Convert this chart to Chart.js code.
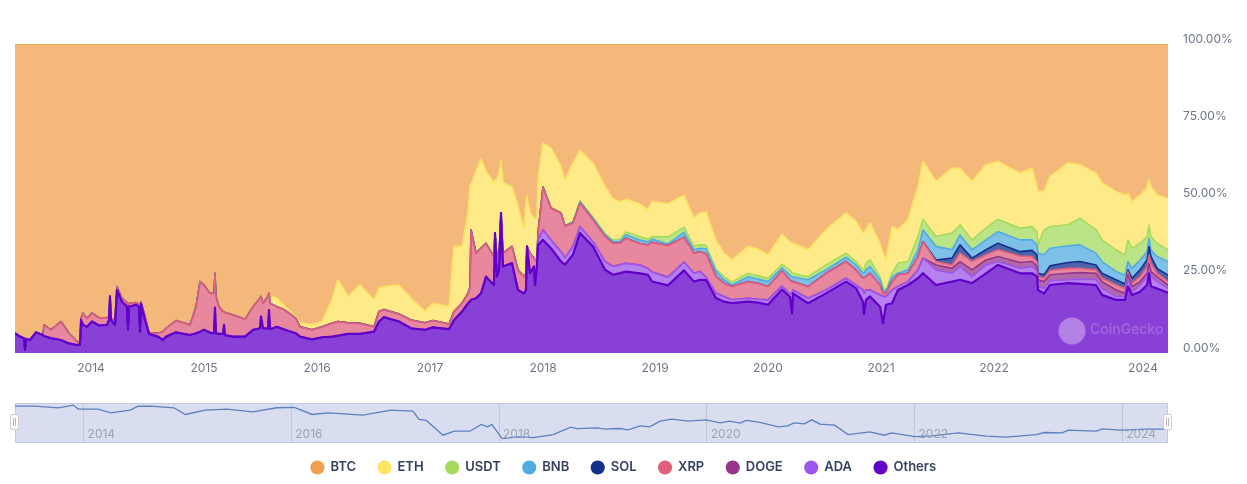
<!DOCTYPE html>
<html><head><meta charset="utf-8">
<script src="https://cdn.jsdelivr.net/npm/chart.js@4"></script>
<style>
html,body{margin:0;padding:0;background:#fff;width:1247px;height:484px;overflow:hidden}
canvas{position:absolute;left:0;display:block}
#main{top:0}#nav{top:395px}
</style></head><body>
<canvas id="main" width="1247" height="484"></canvas>
<canvas id="nav" width="1247" height="55"></canvas>
<script>
// Ordinal sample number of every reading (the axis spaces samples, not calendar time)
const sampleNo=[0,4,9,10,11,15,21,28,
29,36,46,54,62,65,66,68,72,77,84,92,94,95,96,100,102,107,112,113,114,121,124,125,126,130,134,143,148,151,161,175,181,185,189,195,199,200,201,204,208,209,210,218,230,238,245,246,248,253,254,255,
258,262,270,281,285,297,307,317,323,333,345,359,364,369,384,396,410,418,434,439,447,453,455,456,461,466,471,479,480,482,484,486,488,497,503,509,511,512,515,519,520,522,
523,528,536,546,
550,558,565,578,590,598,605,611,625,633,637,653,669,679,685,691,701,709,717,733,743,753,767,775,777,778,793,811,831,841,848,849,851,855,865,868,871,877,883,893,903,908,
921,937,945,957,971,983,1005,1017,1022,1023,1029,1035,1053,1065,1081,1087,1101,1110,1113,1117,1125,1132,1134,1136,1142,1153];

const others=[6.4,5.5,4.8,1,4.6,4.2,6.7,5.8,
5.5,4.8,4.2,3.1,2.6,2.6,10.7,9.1,8.5,10.2,8.9,9.1,10.7,18.3,10.7,9.1,20.4,16.6,15,7.5,15,15.6,15,6.9,15.9,10.7,6.2,5.3,4.2,5.3,6.7,5.8,6.4,6.9,7.5,6.6,6.4,14.7,6.4,6.2,6.2,9.1,5.8,5.3,5.3,7.5,8,11.8,8,8,13.9,7.8,
8,8.5,7.5,6.4,5.3,4.4,5.1,5.3,5.6,6.2,6.2,6.9,10.2,11.6,10.2,8,7.5,8.3,7.7,10.7,13.4,16.1,16.7,17.2,17.7,19.3,24.7,22,38.8,24.7,26.9,45.3,28,29.1,20.4,19.3,20.4,34.5,25.8,28,22,28.5,
35,36.6,33.9,29.6,
28.5,31.8,38.8,34.5,26.9,25.3,25.8,26.3,25.8,25.3,22.8,22,26.9,23.1,23.7,23.7,17.7,16.6,16.1,16.6,16.3,15.6,20.4,18.3,12.9,19.3,16.1,19.3,23.1,21,16.6,12.6,17.2,18.3,15,9.6,15.6,16.1,20.4,22,24.2,25.8,
22,23.1,23.7,22.6,25.8,28.5,25.8,25.8,24.7,20.4,19.3,22,22.6,22.4,22,18.8,17.2,17.2,21.5,18.8,19.8,22,25.8,21.5,20.9,19.5];

const ada=[1.6,3.3,2.7,3.2,
2.2,2.7,2.1,1.5,2.7,2.7,2.7,2.7,2.7,2.1,3,2.7,2.7,2.7,2.7,1,1.6,1.7,1.1,1.1,1.1,1.6,1.1,1,6.4,1.1,1.6,1.1,1.1,1,3.8,6.7,3.2,2.1,3.8,8.7,2.7,4.3,1.1,1.1,2.7,4.9,
4.9,2.7,4.3,2.1,2.7,1.1,1.6,2.2,1.7,1.1,1.6,1.4,1.1,1.5,1.7,2.1,1.1,1.1,2.7,1,2.2,2.7,1.1,3.2,2.2,1.4];

const doge=[1.6,1.6,1.6,2.2,1.6,1.6,1.9,1.6,1.6,2.2,2.2,1.9,2.1,2.1,2.1,2.2,2.1,1,1,1.7,1.1,1.1,2.1,1.6,1.6,1.1];

const xrp=[3.6,2.7,6,3.3,1.1,.5,.5,3.8,2.7,2.7,2.5,2.3,1.1,.2,.5,1.6,1.1,1.1,1.3,1,1.1,.7,.9,.6,.7,1.1,.4,1.1,2.7,2.7,3.8,3.3,8.6,16.2,14.5,12.7,12.9,11.1,11.9,8.8,7.2,4.3,7.3,7,5.6,7.5,9.7,6.5,8.1,10.3,5.4,8.3,
7.6,6.5,6.4,4.8,3.2,3.1,3.4,4.3,4.6,3.6,3.4,1.6,3.2,2.5,2.4,2.7,2.3,2.2,1.7,2.7,2.7,3.2,4.6,22.7,14.6,14.6,10.8,9.2,0,6,4.3,0,4.3,5.4,6.5,5.4,5.4,0,6.5,2.7,8.1,1.6,
2.2,13.8,10.3,12.5,
10.2,7.5,7.6,7.1,8.1,7.5,7,8.1,7,7.6,9.5,10.3,8.1,6.5,6.4,7.6,5.4,4.3,4.3,5.4,5.2,4.3,4.9,4.4,3.8,2.7,3.8,5.4,5.4,4.9,3.8,4.9,4.3,5.4,3.2,1,1,2.7,3.8,2.7,4.3,5.4,
1.1,1.1,2.7,2.7,1.7,2.2,2.1,1.6,1.6,1,1.1,1.4,1.6,1.4,1.1,1.1,1.6,1.6,1.1,1,1.6,2.1,2.7,2.7,1.1,1.1];

const sol=[.5,2.2,2.7,1.1,1.6,2.1,1.4,2,2.2,1.1,1.1,1.5,1.9,2.2,1.6,1.6,1.7,1.4,.6,1.7,2.2,2.2,2.7,2.2,1.6,2.1];

const bnb=[.2,.3,.3,.4,.5,.5,.6,1.1,1.1,1,1,.5,1.6,1.1,1.1,1.6,1.7,1.1,.5,1.6,1.3,1.6,1,1.6,1.6,1.6,2.2,1.1,1.4,1.6,1.6,1.6,2.2,2.2,1.7,1.1,.6,1.6,.5,1.1,2.2,3.8,
4.4,2.7,3.2,2.7,3.2,3.8,3.8,3.4,3.2,6.5,6.5,5.7,5.4,5.4,3.8,3.8,2.7,2.9,2.7,3.2,3.2,2.7,2.7,2.1,3.8,4.4];

const usdt=[.3,.4,.5,.5,.6,.7,.9,1.1,.9,.8,2.3,1.7,1.1,1.1,1.1,.6,1,1,1.1,1.1,1.1,1.1,1.7,1.1,1.1,1,1.6,1.3,1.1,1.1,1.1,2.2,2.1,1,1.1,.5,1.1,3.3,2.7,4.3,3.4,
3.2,5.4,3.3,3.2,3.8,4,3.8,4.3,4.3,2.7,8.1,7,6.8,8.6,7.6,7,7,6.5,7,6.5,5.4,4.8,4.3,4.3,4.3,3.7];

const eth=[2.7,2.7,1.1,.5,1.3,1.6,1.7,7.6,13.5,8.5,12.4,8.7,7.6,7.4,9.4,7,3.6,5.6,5.6,21.1,18.4,26,32.6,14.5,26.5,28.8,23.3,23.8,17.2,25.3,27,17.2,22.7,19.4,20.5,15.2,22.7,16.2,13,12.9,13.5,13,
17.2,14.2,19.4,15.1,
14.6,18.8,16.3,17.5,15.1,13.3,12,10.6,10.5,9.5,11.3,10.8,10.3,9.1,10.3,10.8,9.2,7.6,7,8.7,8.6,7.6,9.7,9.1,9.7,9.7,8.7,11.4,13,12.9,11.9,11.9,10.8,11.9,10.8,10.8,9.7,15.1,10.8,13.5,16.2,18.7,
17.8,21,18.3,18.9,20.5,18.7,17.8,18.9,14.6,17.3,12.4,16.2,20,17.3,18.3,18.4,18.9,19.4,15.1,15.1,15.6,15.7,14.6,16.2,15.6,16.7];

const btc=[93.6,94.5,95.2,99,95.4,95.8,93.3,94.2,
90.9,92.5,89.8,93.6,96.3,96.9,88.8,87.1,88.8,87.1,88.6,88.6,88.2,81.5,88.8,89.3,78.5,82.3,83.7,91.5,83.9,83.7,84.1,92.5,83.4,88.2,93.4,93.6,93.1,92,89.5,90.9,85,76.9,78,80.7,80.7,74.2,81.7,85,86.6,86.6,86.9,87.7,89.1,85,82.3,81.7,83.9,81.7,80.7,83.9,
81.7,82.3,85,88.3,90.2,90.9,89.8,82.8,76.3,81.7,78,82.8,79,78.5,78,82.3,86.6,83.9,85,65.5,65.5,54.7,46.1,45.6,41.2,37.3,41.2,45,44,44,41.8,37.5,45,46.1,52.6,60.1,51.5,49.3,54.7,56.4,56.4,56.9,
44,32.1,33.7,39.6,
44,38.5,34.4,38.5,46.1,50,51,50.1,52,53.7,50.1,52,49.3,56.4,54.7,54.7,63.4,67.7,69.9,65.5,66.4,68.2,61.2,64.5,64.5,64.5,66.6,60.1,54.7,57.5,61.2,61.2,60.1,58,64.5,67.7,69.9,59.1,60.1,56.9,46.1,38,
44.5,40.2,40.2,44.5,39.1,38,41.8,40.2,46.1,47.7,47.7,42.9,38.5,39.1,41.8,45,47.7,48.9,48.3,51,48.9,46.7,44,46.2,48.9,50];

// X-axis tick labels and the sample they sit on
const yearLabels=['2014','2015','2016','2017','2018','2019','2020','2021','2022','2024'];
const yearSamples=[76,189,302,415,528,640,753,866,979,1128];
const shareTicks=[0,25,50,75,100];

// Navigator: BTC share over calendar time
const navYears=[2013.34,2013.53,2013.76,2013.90,2013.95,2014.14,2014.26,2014.45,2014.52,2014.64,2014.87,2014.98,2015.17,2015.38,2015.63,2015.86,2016.03,2016.20,2016.35,2016.69,2016.96,2017.17,2017.23,2017.30,2017.46,2017.57,2017.72,2017.83,2017.89,2017.93,2018.03,2018.18,2018.33,2018.52,2018.69,2018.75,2018.94,2019.02,2019.16,2019.24,2019.36,2019.45,2019.55,2019.66,2019.82,2019.99,2020.13,2020.22,2020.32,2020.38,2020.51,2020.69,2020.78,2020.84,2020.94,2021.01,2021.09,2021.23,2021.36,2021.57,2021.71,2021.78,2022.0,2022.17,2022.42,2022.69,2022.88,2023.17,2023.25,2023.42,2023.48,2023.75,2023.81,2023.98,2024.25,2024.44];
const navBtc=[95.1,95.1,91.9,97,89.4,89.4,82.4,87.5,94.4,95.1,91.9,79.2,87.5,89.4,84.3,92,92.5,79.2,82.4,78,87.5,85.6,69.7,67.8,39.8,47.4,47.4,60.2,55.7,60.2,33.5,36.7,35.4,41.1,55,52.5,53.8,51.3,52.5,50,57.6,55.7,66.5,70.3,66.5,69,63.3,66.5,62.7,67.8,64,55.7,57.6,63.3,61.4,69,60.8,58.9,41.1,46.2,39.8,44.3,37.3,38.6,44.3,37.9,36,41.1,44.9,44.3,49.4,47.4,51.9,49.4,51.3,51.3];
const navTickYears=[2014,2016,2018,2020,2022,2024];

const names=['Others','ADA','DOGE','XRP','SOL','BNB','USDT','ETH','BTC'];
const colors=['#6100C9','#9E55EA','#96358A','#E0607E','#13308D','#52ABE0','#A4DB5E','#FFE363','#EFA04E'];
const series=[others,ada,doge,xrp,sol,bnb,usdt,eth,btc];

const n=sampleNo.length;
const full=a=>[...Array(n-a.length).fill(0),...a];
const cols=series.map(full);
// Percent stacking: readings are normalised to 100 per sample
const totals=sampleNo.map((_,i)=>cols.reduce((s,c)=>s+c[i],0));
const hexA=(h,a)=>{const v=parseInt(h.slice(1),16);return `rgba(${v>>16},${(v>>8)&255},${v&255},${a})`;};

const datasets=names.map((name,k)=>({
  label:name,
  data:sampleNo.map((x,i)=>({x,y:cols[k][i]/totals[i]*100})),
  borderColor:colors[k],
  backgroundColor:hexA(colors[k],.75),
  borderWidth:k===0?2.2:1.6,
  fill:k===0?'origin':'-1',
  pointRadius:0,tension:0,borderJoinStyle:'round'
}));

const watermark={id:'watermark',afterDatasetsDraw(c){
  const g=c.ctx;g.save();
  g.fillStyle='rgba(255,255,255,.34)';
  g.beginPath();g.arc(1072,331,13.5,0,Math.PI*2);g.fill();
  g.fillStyle='rgba(255,255,255,.2)';
  g.font='500 14px Inter';g.textBaseline='middle';g.textAlign='left';
  g.fillText('CoinGecko',1090,330);
  g.restore();
}};

new Chart(document.getElementById('main'),{
  type:'line',
  data:{datasets},
  plugins:[watermark],
  options:{
    responsive:false,animation:false,
    layout:{padding:{left:15,top:44,right:15,bottom:0}},
    plugins:{
      tooltip:{enabled:false},
      legend:{position:'bottom',reverse:true,
        labels:{usePointStyle:true,pointStyle:'circle',boxWidth:14,boxHeight:10,padding:22,
          color:'#364060',font:{family:'Inter',size:13,weight:'600'},
          generateLabels(ch){return Chart.defaults.plugins.legend.labels.generateLabels(ch).map(l=>({...l,fillStyle:colors[l.datasetIndex],strokeStyle:colors[l.datasetIndex],lineWidth:0}));}
        }}
    },
    scales:{
      x:{type:'linear',min:0,max:sampleNo[n-1],
        grid:{display:false},border:{display:false},
        afterBuildTicks(a){a.ticks=yearSamples.map(v=>({value:v}));},
        afterFit(a){a.height=86;},
        ticks:{autoSkip:false,maxRotation:0,padding:0,color:'#6F7787',font:{family:'Inter',size:12},
          callback(v){return yearLabels[yearSamples.indexOf(v)];}}
      },
      y:{position:'right',stacked:true,min:0,max:100,
        grid:{display:false},border:{display:false},
        afterBuildTicks(a){a.ticks=shareTicks.map(v=>({value:v}));},
        afterFit(a){a.width=64;},
        ticks:{padding:7,labelOffset:-5,color:'#6F7787',font:{family:'Inter',size:12},
          callback(v){return v.toFixed(2)+'%';}}
      }
    }
  }
});

const navFrame={id:'navFrame',
  beforeDraw(c){const a=c.chartArea,g=c.ctx;g.save();g.fillStyle='#D8DEEF';g.fillRect(a.left,a.top,a.width,a.height);g.strokeStyle='#C6CCDD';g.strokeRect(a.left+.5,a.top+.5,a.width-1,a.height-1);g.restore();},
  afterDraw(c){const a=c.chartArea,g=c.ctx,x=c.scales.x;g.save();
    g.fillStyle='#9EA3B5';g.font='12px Inter';g.textAlign='left';g.textBaseline='middle';
    navTickYears.forEach(v=>g.fillText(String(v),x.getPixelForValue(v)+4,39.5));
    [a.left,a.right].forEach(px=>{
      g.fillStyle='#fff';g.strokeStyle='#CCCCCC';g.lineWidth=1;
      g.beginPath();g.roundRect(px-4.5,19.5,8,15,1.5);g.fill();g.stroke();
      g.strokeStyle='#B5B5B5';g.beginPath();g.moveTo(px-1.5,23);g.lineTo(px-1.5,31);g.moveTo(px+.5,23);g.lineTo(px+.5,31);g.stroke();
    });g.restore();}
};

new Chart(document.getElementById('nav'),{
  type:'line',
  data:{datasets:[{label:'BTC',data:navYears.map((x,i)=>({x,y:navBtc[i]})),borderColor:'#5B7FBF',borderWidth:1.3,pointRadius:0,fill:false,tension:0}]},
  plugins:[navFrame],
  options:{
    responsive:false,animation:false,
    layout:{padding:{left:15,right:79,top:8,bottom:7}},
    plugins:{legend:{display:false},tooltip:{enabled:false}},
    scales:{
      x:{type:'linear',min:navYears[0],max:navYears[navYears.length-1],
        grid:{color:'#C2C7D6',drawTicks:false},border:{display:false},
        afterBuildTicks(a){a.ticks=navTickYears.map(v=>({value:v}));},
        afterFit(a){a.height=0;},
        ticks:{display:false}
      },
      y:{display:false,min:25,max:101}
    }
  }
});
</script>
</body></html>
